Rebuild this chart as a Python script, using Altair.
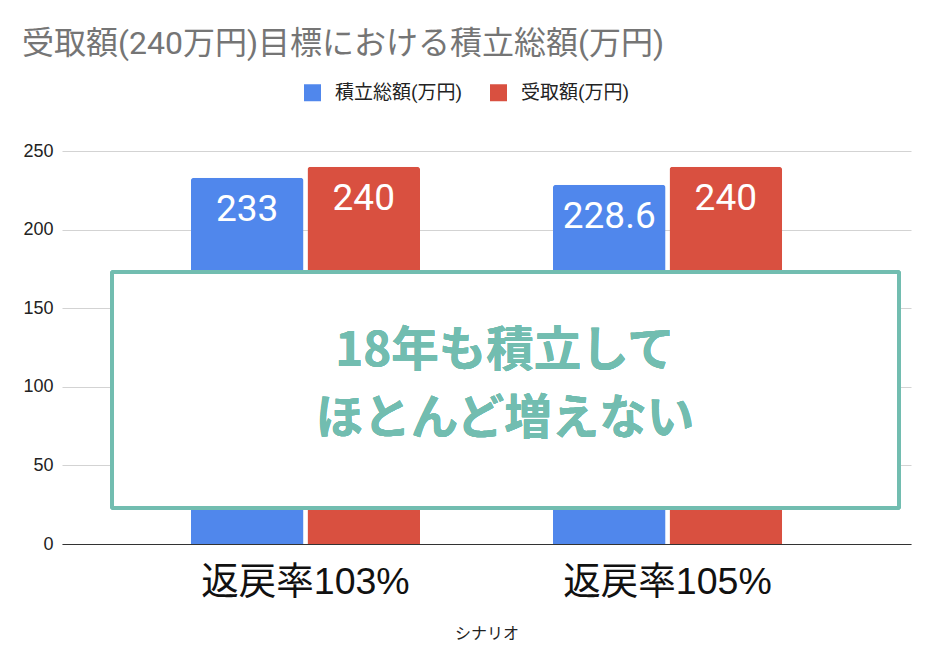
import altair as alt
import pandas as pd

# ---- data ----
scenarios = ["返戻率103%", "返戻率103%", "返戻率105%", "返戻率105%"]
series = ["積立総額(万円)", "受取額(万円)", "積立総額(万円)", "受取額(万円)"]
values = [233, 240, 228.6, 240]
series_order = ["積立総額(万円)", "受取額(万円)"]
series_colors = ["#5087EC", "#D95040"]
scenario_order = ["返戻率103%", "返戻率105%"]
y_ticks = [0, 50, 100, 150, 200, 250]
title_text = "受取額(240万円)目標における積立総額(万円)"
x_title = "シナリオ"
note_lines = ["18年も積立して", "ほとんど増えない"]

df = pd.DataFrame({"scenario": scenarios, "series": series, "value": values})

LATIN_CJK = "'Liberation Sans', 'Noto Sans CJK JP', sans-serif"
ROBOTO_CJK = "Roboto, 'Noto Sans CJK JP', sans-serif"
TEAL = "#72BDB0"

x_enc = alt.X(
    "scenario:N",
    sort=scenario_order,
    scale=alt.Scale(paddingInner=0.367, paddingOuter=0.356),
    axis=alt.Axis(
        title=x_title,
        labelAngle=0,
        labelFontSize=37.5,
        labelFont=LATIN_CJK,
        labelColor="#111111",
        labelPadding=19,
        labelLimit=500,
        ticks=False,
        tickSize=0,
        domainColor="#333333",
        domainWidth=1.2,
        titleFontSize=16,
        titleFontWeight="normal",
        titleFont=LATIN_CJK,
        titleColor="#222222",
        titlePadding=25,
        grid=False,
    ),
)
xoff_enc = alt.XOffset(
    "series:N", sort=series_order, scale=alt.Scale(paddingInner=0.034, paddingOuter=0)
)
y_enc = alt.Y(
    "value:Q",
    scale=alt.Scale(domain=[0, 250], nice=False),
    axis=alt.Axis(
        title=None,
        values=y_ticks,
        domain=False,
        ticks=False,
        labelFontSize=18,
        labelFont=LATIN_CJK,
        labelColor="#222222",
        labelPadding=9,
        gridColor="#D3D3D3",
        gridWidth=1,
    ),
)
color_enc = alt.Color(
    "series:N",
    sort=series_order,
    scale=alt.Scale(domain=series_order, range=series_colors),
    legend=alt.Legend(
        title=None,
        orient="none",
        legendX=241,
        legendY=-68,
        direction="horizontal",
        symbolType="square",
        symbolSize=289,
        symbolStrokeWidth=0,
        labelFontSize=19,
        labelFont=ROBOTO_CJK,
        labelColor="#222222",
        labelOffset=13,
        columnPadding=26,
    ),
)

base = alt.Chart(df)

bars = base.mark_bar(cornerRadiusTopLeft=3, cornerRadiusTopRight=3).encode(
    x=x_enc, xOffset=xoff_enc, y=y_enc, color=color_enc
)

labels = base.mark_text(
    baseline="top", dy=14, color="white", fontSize=37, font=ROBOTO_CJK
).encode(
    x=alt.X("scenario:N", sort=scenario_order),
    xOffset=alt.XOffset("series:N", sort=series_order),
    y="value:Q",
    text=alt.Text("value:Q", format="~g"),
)

box = base.mark_rect(
    fill="white", stroke=TEAL, strokeWidth=4, cornerRadius=2
).encode(
    x=alt.value(50), x2=alt.value(837), y=alt.value(121), y2=alt.value(357)
)

note = base.mark_text(
    fontSize=47.5,
    fontWeight="bold",
    font="'Noto Sans CJK JP', sans-serif",
    color=TEAL,
    align="center",
    baseline="middle",
    lineHeight=68,
).encode(
    x=alt.value(443), y=alt.value(201), text=alt.value(note_lines)
)

chart = (
    alt.layer(bars, labels, box, note)
    .properties(
        width=849,
        height=393,
        autosize="none",
        padding={"left": 54, "top": 143, "right": 20, "bottom": 100},
        title=alt.TitleParams(
            title_text,
            anchor="start",
            frame="group",
            dx=-40,
            offset=22,
            fontSize=32,
            fontWeight="normal",
            font=ROBOTO_CJK,
            color="#757575",
        ),
    )
    .configure_view(stroke=None)
)

chart.save("out.html", embed_options={"renderer": "svg", "actions": False})
